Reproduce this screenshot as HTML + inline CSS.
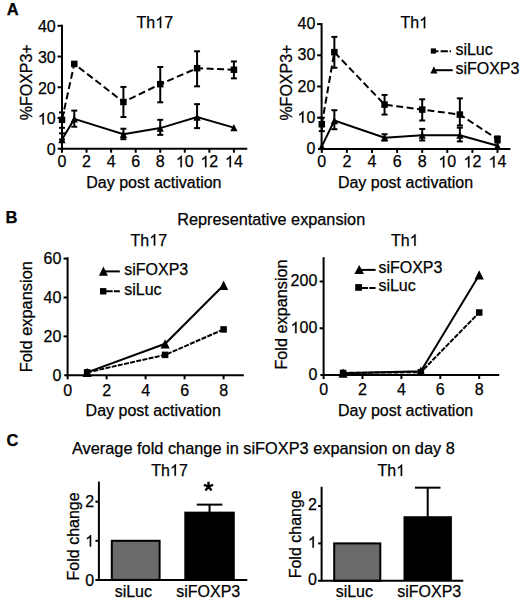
<!DOCTYPE html>
<html><head><meta charset="utf-8"><style>
html,body{margin:0;padding:0;background:#fff;}
svg{display:block;}
text{font-family:"Liberation Sans", sans-serif;fill:#000;stroke:#000;stroke-width:0.25px;}
line,polyline,path{stroke:#000;}
.o{fill:none;stroke:none;}
path.one{stroke-width:0.25px;}
</style></head><body>
<svg width="520" height="602" viewBox="0 0 520 602">
<rect width="520" height="602" fill="#fff"/>
<line x1="62.00" y1="24.80" x2="62.00" y2="149.70" stroke-width="2"/>
<line x1="57.70" y1="148.70" x2="247.30" y2="148.70" stroke-width="2"/>
<text font-size="16" text-anchor="end" transform="translate(55.70 155.20)">0</text>
<line x1="57.50" y1="117.97" x2="62.00" y2="117.97" stroke-width="2"/>
<text font-size="16" text-anchor="end" transform="translate(55.70 124.47)"><tspan class="o">1</tspan>0</text>
<line x1="57.50" y1="87.25" x2="62.00" y2="87.25" stroke-width="2"/>
<text font-size="16" text-anchor="end" transform="translate(55.70 93.75)">20</text>
<line x1="57.50" y1="56.52" x2="62.00" y2="56.52" stroke-width="2"/>
<text font-size="16" text-anchor="end" transform="translate(55.70 63.02)">30</text>
<line x1="57.50" y1="25.80" x2="62.00" y2="25.80" stroke-width="2"/>
<text font-size="16" text-anchor="end" transform="translate(55.70 32.30)">40</text>
<line x1="62.00" y1="148.70" x2="62.00" y2="152.70" stroke-width="2"/>
<text font-size="16" text-anchor="middle" transform="translate(62.00 167.20)">0</text>
<line x1="86.56" y1="148.70" x2="86.56" y2="152.70" stroke-width="2"/>
<text font-size="16" text-anchor="middle" transform="translate(86.56 167.20)">2</text>
<line x1="111.12" y1="148.70" x2="111.12" y2="152.70" stroke-width="2"/>
<text font-size="16" text-anchor="middle" transform="translate(111.12 167.20)">4</text>
<line x1="135.68" y1="148.70" x2="135.68" y2="152.70" stroke-width="2"/>
<text font-size="16" text-anchor="middle" transform="translate(135.68 167.20)">6</text>
<line x1="160.24" y1="148.70" x2="160.24" y2="152.70" stroke-width="2"/>
<text font-size="16" text-anchor="middle" transform="translate(160.24 167.20)">8</text>
<line x1="184.80" y1="148.70" x2="184.80" y2="152.70" stroke-width="2"/>
<text font-size="16" text-anchor="middle" transform="translate(184.80 167.20)"><tspan class="o">1</tspan>0</text>
<line x1="209.36" y1="148.70" x2="209.36" y2="152.70" stroke-width="2"/>
<text font-size="16" text-anchor="middle" transform="translate(209.36 167.20)"><tspan class="o">1</tspan>2</text>
<line x1="233.92" y1="148.70" x2="233.92" y2="152.70" stroke-width="2"/>
<text font-size="16" text-anchor="middle" transform="translate(233.92 167.20)"><tspan class="o">1</tspan>4</text>
<text font-size="16" transform="translate(136.60 28.10)">Th<tspan class="o">1</tspan>7</text>
<text font-size="16" text-anchor="middle" transform="translate(32.20 82.30) rotate(-90)">%FOXP3+</text>
<text font-size="16" transform="translate(86.30 187.80)">Day post activation</text>
<line x1="62.00" y1="112.44" x2="62.00" y2="127.81" stroke-width="2"/>
<line x1="59.00" y1="112.44" x2="65.00" y2="112.44" stroke-width="2"/>
<line x1="59.00" y1="127.81" x2="65.00" y2="127.81" stroke-width="2"/>
<line x1="123.40" y1="117.05" x2="123.40" y2="86.94" stroke-width="2"/>
<line x1="120.40" y1="117.05" x2="126.40" y2="117.05" stroke-width="2"/>
<line x1="120.40" y1="86.94" x2="126.40" y2="86.94" stroke-width="2"/>
<line x1="160.24" y1="102.31" x2="160.24" y2="66.97" stroke-width="2"/>
<line x1="157.24" y1="102.31" x2="163.24" y2="102.31" stroke-width="2"/>
<line x1="157.24" y1="66.97" x2="163.24" y2="66.97" stroke-width="2"/>
<line x1="197.08" y1="86.33" x2="197.08" y2="51.30" stroke-width="2"/>
<line x1="194.08" y1="86.33" x2="200.08" y2="86.33" stroke-width="2"/>
<line x1="194.08" y1="51.30" x2="200.08" y2="51.30" stroke-width="2"/>
<line x1="233.92" y1="78.34" x2="233.92" y2="61.44" stroke-width="2"/>
<line x1="230.92" y1="78.34" x2="236.92" y2="78.34" stroke-width="2"/>
<line x1="230.92" y1="61.44" x2="236.92" y2="61.44" stroke-width="2"/>
<line x1="62.00" y1="133.34" x2="62.00" y2="139.48" stroke-width="2"/>
<line x1="59.00" y1="133.34" x2="65.00" y2="133.34" stroke-width="2"/>
<line x1="59.00" y1="139.48" x2="65.00" y2="139.48" stroke-width="2"/>
<line x1="74.28" y1="126.73" x2="74.28" y2="110.60" stroke-width="2"/>
<line x1="71.28" y1="126.73" x2="77.28" y2="126.73" stroke-width="2"/>
<line x1="71.28" y1="110.60" x2="77.28" y2="110.60" stroke-width="2"/>
<line x1="123.40" y1="139.18" x2="123.40" y2="128.73" stroke-width="2"/>
<line x1="120.40" y1="139.18" x2="126.40" y2="139.18" stroke-width="2"/>
<line x1="120.40" y1="128.73" x2="126.40" y2="128.73" stroke-width="2"/>
<line x1="160.24" y1="134.87" x2="160.24" y2="119.82" stroke-width="2"/>
<line x1="157.24" y1="134.87" x2="163.24" y2="134.87" stroke-width="2"/>
<line x1="157.24" y1="119.82" x2="163.24" y2="119.82" stroke-width="2"/>
<line x1="197.08" y1="128.11" x2="197.08" y2="104.15" stroke-width="2"/>
<line x1="194.08" y1="128.11" x2="200.08" y2="128.11" stroke-width="2"/>
<line x1="194.08" y1="104.15" x2="200.08" y2="104.15" stroke-width="2"/>
<polyline points="62.00,119.82 74.28,63.90 123.40,102.00 160.24,84.18 197.08,68.20 233.92,69.74" fill="none" stroke-width="2" stroke-dasharray="7,3.5"/>
<polyline points="62.00,139.48 74.28,118.90 123.40,134.26 160.24,128.11 197.08,117.05 233.92,127.65" fill="none" stroke-width="2"/>
<rect x="58.75" y="116.57" width="6.5" height="6.5"/>
<rect x="71.03" y="60.65" width="6.5" height="6.5"/>
<rect x="120.15" y="98.75" width="6.5" height="6.5"/>
<rect x="156.99" y="80.93" width="6.5" height="6.5"/>
<rect x="193.83" y="64.95" width="6.5" height="6.5"/>
<rect x="230.67" y="66.49" width="6.5" height="6.5"/>
<polygon points="62.00,135.78 65.60,143.18 58.40,143.18"/>
<polygon points="74.28,115.20 77.88,122.60 70.68,122.60"/>
<polygon points="123.40,130.56 127.00,137.96 119.80,137.96"/>
<polygon points="160.24,124.41 163.84,131.81 156.64,131.81"/>
<polygon points="197.08,113.35 200.68,120.75 193.48,120.75"/>
<polygon points="233.92,123.95 237.52,131.35 230.32,131.35"/>
<line x1="321.60" y1="23.20" x2="321.60" y2="149.90" stroke-width="2"/>
<line x1="318.00" y1="148.90" x2="510.40" y2="148.90" stroke-width="2"/>
<text font-size="16" text-anchor="end" transform="translate(315.30 153.90)">0</text>
<line x1="317.10" y1="117.70" x2="321.60" y2="117.70" stroke-width="2"/>
<text font-size="16" text-anchor="end" transform="translate(315.30 122.70)"><tspan class="o">1</tspan>0</text>
<line x1="317.10" y1="86.50" x2="321.60" y2="86.50" stroke-width="2"/>
<text font-size="16" text-anchor="end" transform="translate(315.30 91.50)">20</text>
<line x1="317.10" y1="55.30" x2="321.60" y2="55.30" stroke-width="2"/>
<text font-size="16" text-anchor="end" transform="translate(315.30 60.30)">30</text>
<line x1="317.10" y1="24.10" x2="321.60" y2="24.10" stroke-width="2"/>
<text font-size="16" text-anchor="end" transform="translate(315.30 29.10)">40</text>
<line x1="321.80" y1="148.90" x2="321.80" y2="152.90" stroke-width="2"/>
<text font-size="16" text-anchor="middle" transform="translate(321.80 167.40)">0</text>
<line x1="346.90" y1="148.90" x2="346.90" y2="152.90" stroke-width="2"/>
<text font-size="16" text-anchor="middle" transform="translate(346.90 167.40)">2</text>
<line x1="372.00" y1="148.90" x2="372.00" y2="152.90" stroke-width="2"/>
<text font-size="16" text-anchor="middle" transform="translate(372.00 167.40)">4</text>
<line x1="397.10" y1="148.90" x2="397.10" y2="152.90" stroke-width="2"/>
<text font-size="16" text-anchor="middle" transform="translate(397.10 167.40)">6</text>
<line x1="422.20" y1="148.90" x2="422.20" y2="152.90" stroke-width="2"/>
<text font-size="16" text-anchor="middle" transform="translate(422.20 167.40)">8</text>
<line x1="447.30" y1="148.90" x2="447.30" y2="152.90" stroke-width="2"/>
<text font-size="16" text-anchor="middle" transform="translate(447.30 167.40)"><tspan class="o">1</tspan>0</text>
<line x1="472.40" y1="148.90" x2="472.40" y2="152.90" stroke-width="2"/>
<text font-size="16" text-anchor="middle" transform="translate(472.40 167.40)"><tspan class="o">1</tspan>2</text>
<line x1="497.50" y1="148.90" x2="497.50" y2="152.90" stroke-width="2"/>
<text font-size="16" text-anchor="middle" transform="translate(497.50 167.40)"><tspan class="o">1</tspan>4</text>
<text font-size="16" transform="translate(400.60 28.20)">Th<tspan class="o">1</tspan></text>
<text font-size="16" text-anchor="middle" transform="translate(292.20 82.60) rotate(-90)">%FOXP3+</text>
<text font-size="16" transform="translate(337.90 188.00)">Day post activation</text>
<line x1="321.80" y1="117.70" x2="321.80" y2="131.12" stroke-width="2"/>
<line x1="318.80" y1="117.70" x2="324.80" y2="117.70" stroke-width="2"/>
<line x1="318.80" y1="131.12" x2="324.80" y2="131.12" stroke-width="2"/>
<line x1="334.35" y1="67.78" x2="334.35" y2="36.89" stroke-width="2"/>
<line x1="331.35" y1="67.78" x2="337.35" y2="67.78" stroke-width="2"/>
<line x1="331.35" y1="36.89" x2="337.35" y2="36.89" stroke-width="2"/>
<line x1="384.55" y1="114.58" x2="384.55" y2="94.92" stroke-width="2"/>
<line x1="381.55" y1="114.58" x2="387.55" y2="114.58" stroke-width="2"/>
<line x1="381.55" y1="94.92" x2="387.55" y2="94.92" stroke-width="2"/>
<line x1="422.20" y1="120.51" x2="422.20" y2="99.29" stroke-width="2"/>
<line x1="419.20" y1="120.51" x2="425.20" y2="120.51" stroke-width="2"/>
<line x1="419.20" y1="99.29" x2="425.20" y2="99.29" stroke-width="2"/>
<line x1="459.85" y1="125.50" x2="459.85" y2="98.36" stroke-width="2"/>
<line x1="456.85" y1="125.50" x2="462.85" y2="125.50" stroke-width="2"/>
<line x1="456.85" y1="98.36" x2="462.85" y2="98.36" stroke-width="2"/>
<line x1="497.50" y1="142.66" x2="497.50" y2="136.42" stroke-width="2"/>
<line x1="494.50" y1="142.66" x2="500.50" y2="142.66" stroke-width="2"/>
<line x1="494.50" y1="136.42" x2="500.50" y2="136.42" stroke-width="2"/>
<line x1="334.35" y1="129.24" x2="334.35" y2="110.21" stroke-width="2"/>
<line x1="331.35" y1="129.24" x2="337.35" y2="129.24" stroke-width="2"/>
<line x1="331.35" y1="110.21" x2="337.35" y2="110.21" stroke-width="2"/>
<line x1="384.55" y1="140.48" x2="384.55" y2="134.24" stroke-width="2"/>
<line x1="381.55" y1="140.48" x2="387.55" y2="140.48" stroke-width="2"/>
<line x1="381.55" y1="134.24" x2="387.55" y2="134.24" stroke-width="2"/>
<line x1="422.20" y1="140.48" x2="422.20" y2="128.93" stroke-width="2"/>
<line x1="419.20" y1="140.48" x2="425.20" y2="140.48" stroke-width="2"/>
<line x1="419.20" y1="128.93" x2="425.20" y2="128.93" stroke-width="2"/>
<line x1="459.85" y1="141.41" x2="459.85" y2="127.68" stroke-width="2"/>
<line x1="456.85" y1="141.41" x2="462.85" y2="141.41" stroke-width="2"/>
<line x1="456.85" y1="127.68" x2="462.85" y2="127.68" stroke-width="2"/>
<polyline points="321.80,124.25 334.35,52.18 384.55,104.60 422.20,109.59 459.85,114.58 497.50,139.23" fill="none" stroke-width="2" stroke-dasharray="7,3.5"/>
<polyline points="321.80,146.40 334.35,120.51 384.55,137.67 422.20,135.17 459.85,135.17 497.50,145.78" fill="none" stroke-width="2"/>
<rect x="318.55" y="121.00" width="6.5" height="6.5"/>
<rect x="331.10" y="48.93" width="6.5" height="6.5"/>
<rect x="381.30" y="101.35" width="6.5" height="6.5"/>
<rect x="418.95" y="106.34" width="6.5" height="6.5"/>
<rect x="456.60" y="111.33" width="6.5" height="6.5"/>
<rect x="494.25" y="135.98" width="6.5" height="6.5"/>
<polygon points="321.80,142.70 325.40,150.10 318.20,150.10"/>
<polygon points="334.35,116.81 337.95,124.21 330.75,124.21"/>
<polygon points="384.55,133.97 388.15,141.37 380.95,141.37"/>
<polygon points="422.20,131.47 425.80,138.87 418.60,138.87"/>
<polygon points="459.85,131.47 463.45,138.87 456.25,138.87"/>
<polygon points="497.50,142.08 501.10,149.48 493.90,149.48"/>
<rect x="430.80" y="48.40" width="5.2" height="5.2"/>
<line x1="433.00" y1="51.30" x2="451.00" y2="51.30" stroke-width="2" stroke-dasharray="5.4,2.2,7.3,1.7"/>
<text font-size="16" transform="translate(455.40 55.00)">siLuc</text>
<polygon points="433.90,66.35 437.50,73.55 430.30,73.55"/>
<line x1="434.00" y1="70.20" x2="452.70" y2="70.20" stroke-width="2"/>
<text font-size="16" transform="translate(455.40 74.40)">siFOXP3</text>
<text font-size="16.5" font-weight="bold" transform="translate(6.70 14.60)">A</text>
<text font-size="16.5" font-weight="bold" transform="translate(5.60 222.80)">B</text>
<text font-size="16.25" transform="translate(177.30 225.00)">Representative expansion</text>
<line x1="67.60" y1="257.30" x2="67.60" y2="376.30" stroke-width="2"/>
<line x1="64.20" y1="375.30" x2="243.80" y2="375.30" stroke-width="2"/>
<text font-size="16" text-anchor="end" transform="translate(61.30 381.00)">0</text>
<line x1="63.60" y1="336.40" x2="67.60" y2="336.40" stroke-width="2"/>
<text font-size="16" text-anchor="end" transform="translate(61.30 342.10)">20</text>
<line x1="63.60" y1="297.50" x2="67.60" y2="297.50" stroke-width="2"/>
<text font-size="16" text-anchor="end" transform="translate(61.30 303.20)">40</text>
<line x1="63.60" y1="258.60" x2="67.60" y2="258.60" stroke-width="2"/>
<text font-size="16" text-anchor="end" transform="translate(61.30 264.30)">60</text>
<line x1="67.60" y1="375.30" x2="67.60" y2="379.30" stroke-width="2"/>
<text font-size="16" text-anchor="middle" transform="translate(67.60 395.50)">0</text>
<line x1="106.60" y1="375.30" x2="106.60" y2="379.30" stroke-width="2"/>
<text font-size="16" text-anchor="middle" transform="translate(106.60 395.50)">2</text>
<line x1="145.60" y1="375.30" x2="145.60" y2="379.30" stroke-width="2"/>
<text font-size="16" text-anchor="middle" transform="translate(145.60 395.50)">4</text>
<line x1="184.60" y1="375.30" x2="184.60" y2="379.30" stroke-width="2"/>
<text font-size="16" text-anchor="middle" transform="translate(184.60 395.50)">6</text>
<line x1="223.60" y1="375.30" x2="223.60" y2="379.30" stroke-width="2"/>
<text font-size="16" text-anchor="middle" transform="translate(223.60 395.50)">8</text>
<text font-size="16" transform="translate(130.60 245.50)">Th<tspan class="o">1</tspan>7</text>
<text font-size="16.4" text-anchor="middle" transform="translate(32.00 316.70) rotate(-90)">Fold expansion</text>
<text font-size="16" transform="translate(85.60 416.10)">Day post activation</text>
<polyline points="87.10,372.38 165.10,354.88 223.60,329.40" fill="none" stroke-width="2" stroke-dasharray="5,1.3"/>
<polyline points="87.10,372.38 165.10,343.79 223.60,285.25" fill="none" stroke-width="2"/>
<rect x="83.85" y="369.13" width="6.5" height="6.5"/>
<rect x="161.85" y="351.63" width="6.5" height="6.5"/>
<rect x="220.35" y="326.15" width="6.5" height="6.5"/>
<polygon points="87.10,367.73 91.70,377.03 82.50,377.03"/>
<polygon points="165.10,339.14 169.70,348.44 160.50,348.44"/>
<polygon points="223.60,280.60 228.20,289.90 219.00,289.90"/>
<polygon points="103.40,266.50 107.90,275.70 98.90,275.70"/>
<line x1="103.40" y1="271.40" x2="119.80" y2="271.40" stroke-width="2"/>
<text font-size="16" transform="translate(124.20 274.80)">siFOXP3</text>
<rect x="100.00" y="288.10" width="6.4" height="6.4"/>
<line x1="103.20" y1="291.30" x2="119.80" y2="291.30" stroke-width="2" stroke-dasharray="9.5,1.2"/>
<text font-size="16" transform="translate(124.20 295.00)">siLuc</text>
<line x1="323.60" y1="257.20" x2="323.60" y2="376.00" stroke-width="2"/>
<line x1="320.40" y1="375.00" x2="499.20" y2="375.00" stroke-width="2"/>
<text font-size="16" text-anchor="end" transform="translate(317.30 379.90)">0</text>
<line x1="319.60" y1="328.25" x2="323.60" y2="328.25" stroke-width="2"/>
<text font-size="16" text-anchor="end" transform="translate(317.30 333.15)"><tspan class="o">1</tspan>00</text>
<line x1="319.60" y1="281.50" x2="323.60" y2="281.50" stroke-width="2"/>
<text font-size="16" text-anchor="end" transform="translate(317.30 286.40)">200</text>
<line x1="323.60" y1="375.00" x2="323.60" y2="379.00" stroke-width="2"/>
<text font-size="16" text-anchor="middle" transform="translate(323.60 395.20)">0</text>
<line x1="362.50" y1="375.00" x2="362.50" y2="379.00" stroke-width="2"/>
<text font-size="16" text-anchor="middle" transform="translate(362.50 395.20)">2</text>
<line x1="401.40" y1="375.00" x2="401.40" y2="379.00" stroke-width="2"/>
<text font-size="16" text-anchor="middle" transform="translate(401.40 395.20)">4</text>
<line x1="440.30" y1="375.00" x2="440.30" y2="379.00" stroke-width="2"/>
<text font-size="16" text-anchor="middle" transform="translate(440.30 395.20)">6</text>
<line x1="479.20" y1="375.00" x2="479.20" y2="379.00" stroke-width="2"/>
<text font-size="16" text-anchor="middle" transform="translate(479.20 395.20)">8</text>
<text font-size="16" transform="translate(391.00 245.70)">Th<tspan class="o">1</tspan></text>
<text font-size="16.25" text-anchor="middle" transform="translate(287.00 314.50) rotate(-90)">Fold expansion</text>
<text font-size="16" transform="translate(338.00 415.80)">Day post activation</text>
<polyline points="343.05,372.90 420.85,372.19 479.20,312.50" fill="none" stroke-width="2" stroke-dasharray="5,1.3"/>
<polyline points="343.05,373.13 420.85,371.26 479.20,274.95" fill="none" stroke-width="2"/>
<rect x="339.80" y="369.65" width="6.5" height="6.5"/>
<rect x="417.60" y="368.94" width="6.5" height="6.5"/>
<rect x="475.95" y="309.25" width="6.5" height="6.5"/>
<polygon points="343.05,368.48 347.65,377.78 338.45,377.78"/>
<polygon points="420.85,366.61 425.45,375.91 416.25,375.91"/>
<polygon points="479.20,270.31 483.80,279.60 474.60,279.60"/>
<polygon points="359.20,264.90 364.00,274.00 354.40,274.00"/>
<line x1="359.20" y1="269.90" x2="375.60" y2="269.90" stroke-width="2"/>
<text font-size="16" transform="translate(378.40 273.30)">siFOXP3</text>
<rect x="355.20" y="284.10" width="6.7" height="6.7"/>
<line x1="358.55" y1="288.00" x2="375.60" y2="288.00" stroke-width="2" stroke-dasharray="9.5,1.2"/>
<text font-size="16" transform="translate(378.40 291.40)">siLuc</text>
<text font-size="16.5" font-weight="bold" transform="translate(6.40 445.80)">C</text>
<text font-size="16.33" transform="translate(72.00 454.20)">Average fold change in siFOXP3 expansion on day 8</text>
<rect x="111.8" y="540.80" width="47.80" height="39.10" fill="#6a6a6a" stroke="#000" stroke-width="2"/>
<rect x="184.3" y="511.65" width="50.50" height="68.25"/>
<line x1="209.55" y1="504.63" x2="209.55" y2="512.65" stroke-width="2"/>
<line x1="196.75" y1="504.63" x2="222.35" y2="504.63" stroke-width="2"/>
<line x1="98.90" y1="481.60" x2="98.90" y2="580.90" stroke-width="2"/>
<line x1="95.40" y1="579.90" x2="247.30" y2="579.90" stroke-width="2"/>
<text font-size="16" text-anchor="end" transform="translate(94.10 585.60)">0</text>
<line x1="95.40" y1="540.80" x2="98.90" y2="540.80" stroke-width="2"/>
<text font-size="16" text-anchor="end" transform="translate(94.10 546.50)"><tspan class="o">1</tspan></text>
<line x1="95.40" y1="501.70" x2="98.90" y2="501.70" stroke-width="2"/>
<text font-size="16" text-anchor="end" transform="translate(94.10 507.40)">2</text>
<text font-size="16" transform="translate(151.30 475.80)">Th<tspan class="o">1</tspan>7</text>
<text font-size="16" text-anchor="middle" transform="translate(79.00 536.40) rotate(-90)">Fold change</text>
<text font-size="16" text-anchor="middle" transform="translate(133.30 596.60)">siLuc</text>
<text font-size="16" text-anchor="middle" transform="translate(208.20 596.60)">siFOXP3</text>
<path d="M208.5 486.5 V481.7 M208.5 486.5 L203.9 484.9 M208.5 486.5 L213.1 484.9 M208.5 486.5 L205.5 490.5 M208.5 486.5 L211.5 490.5" stroke-width="2.3" fill="none"/>
<rect x="334.2" y="543.40" width="46.10" height="37.40" fill="#6a6a6a" stroke="#000" stroke-width="2"/>
<rect x="403.5" y="516.22" width="48.40" height="64.58"/>
<line x1="427.70" y1="487.67" x2="427.70" y2="517.22" stroke-width="2"/>
<line x1="414.90" y1="487.67" x2="440.50" y2="487.67" stroke-width="2"/>
<line x1="321.60" y1="486.80" x2="321.60" y2="581.80" stroke-width="2"/>
<line x1="318.10" y1="580.80" x2="463.30" y2="580.80" stroke-width="2"/>
<text font-size="16" text-anchor="end" transform="translate(316.80 585.10)">0</text>
<line x1="318.10" y1="543.40" x2="321.60" y2="543.40" stroke-width="2"/>
<text font-size="16" text-anchor="end" transform="translate(316.80 547.70)"><tspan class="o">1</tspan></text>
<line x1="318.10" y1="506.00" x2="321.60" y2="506.00" stroke-width="2"/>
<text font-size="16" text-anchor="end" transform="translate(316.80 510.30)">2</text>
<text font-size="16" transform="translate(377.50 476.00)">Th<tspan class="o">1</tspan></text>
<text font-size="16" text-anchor="middle" transform="translate(301.00 534.30) rotate(-90)">Fold change</text>
<text font-size="16" text-anchor="middle" transform="translate(354.30 596.60)">siLuc</text>
<text font-size="16" text-anchor="middle" transform="translate(429.20 596.60)">siFOXP3</text>
<g id="ones"><path class="one" d="M43.85 124.47H42.44V115.51Q41.93 115.99 41.11 116.48Q40.29 116.96 39.63 117.20V115.84Q40.81 115.29 41.69 114.50Q42.58 113.71 42.94 112.97H43.85Z"/><path class="one" d="M181.85 167.20H180.45V158.24Q179.94 158.72 179.12 159.21Q178.29 159.69 177.64 159.93V158.57Q178.82 158.02 179.70 157.23Q180.58 156.44 180.95 155.70H181.85Z"/><path class="one" d="M206.41 167.20H205.01V158.24Q204.50 158.72 203.68 159.21Q202.85 159.69 202.20 159.93V158.57Q203.38 158.02 204.26 157.23Q205.14 156.44 205.51 155.70H206.41Z"/><path class="one" d="M230.97 167.20H229.57V158.24Q229.06 158.72 228.24 159.21Q227.41 159.69 226.76 159.93V158.57Q227.94 158.02 228.82 157.23Q229.70 156.44 230.07 155.70H230.97Z"/><path class="one" d="M161.23 28.10H159.83V19.14Q159.32 19.62 158.49 20.11Q157.67 20.59 157.01 20.83V19.48Q158.19 18.92 159.08 18.13Q159.96 17.34 160.33 16.60H161.23Z"/><path class="one" d="M303.45 122.70H302.04V113.74Q301.53 114.22 300.71 114.71Q299.89 115.19 299.23 115.43V114.08Q300.41 113.52 301.29 112.73Q302.18 111.94 302.54 111.20H303.45Z"/><path class="one" d="M444.35 167.40H442.95V158.44Q442.44 158.92 441.62 159.41Q440.79 159.89 440.14 160.13V158.78Q441.32 158.22 442.20 157.43Q443.08 156.64 443.45 155.90H444.35Z"/><path class="one" d="M469.45 167.40H468.05V158.44Q467.54 158.92 466.72 159.41Q465.89 159.89 465.24 160.13V158.78Q466.42 158.22 467.30 157.43Q468.18 156.64 468.55 155.90H469.45Z"/><path class="one" d="M494.55 167.40H493.15V158.44Q492.64 158.92 491.82 159.41Q490.99 159.89 490.34 160.13V158.78Q491.52 158.22 492.40 157.43Q493.28 156.64 493.65 155.90H494.55Z"/><path class="one" d="M425.23 28.20H423.83V19.24Q423.32 19.72 422.49 20.21Q421.67 20.69 421.01 20.93V19.57Q422.19 19.02 423.08 18.23Q423.96 17.44 424.33 16.70H425.23Z"/><path class="one" d="M155.23 245.50H153.83V236.54Q153.32 237.02 152.49 237.51Q151.67 237.99 151.01 238.23V236.88Q152.19 236.32 153.08 235.53Q153.96 234.74 154.33 234.00H155.23Z"/><path class="one" d="M296.56 333.15H295.15V324.19Q294.64 324.67 293.82 325.16Q293.00 325.64 292.34 325.88V324.52Q293.52 323.97 294.40 323.18Q295.28 322.39 295.65 321.65H296.56Z"/><path class="one" d="M415.63 245.70H414.23V236.74Q413.72 237.22 412.89 237.71Q412.07 238.19 411.41 238.43V237.07Q412.59 236.52 413.48 235.73Q414.36 234.94 414.73 234.20H415.63Z"/><path class="one" d="M91.15 546.50H89.75V537.54Q89.24 538.02 88.42 538.51Q87.59 538.99 86.94 539.23V537.88Q88.12 537.32 89.00 536.53Q89.88 535.74 90.25 535.00H91.15Z"/><path class="one" d="M175.93 475.80H174.53V466.84Q174.02 467.32 173.19 467.81Q172.37 468.29 171.71 468.53V467.18Q172.89 466.62 173.78 465.83Q174.66 465.04 175.03 464.30H175.93Z"/><path class="one" d="M313.85 547.70H312.45V538.74Q311.94 539.22 311.12 539.71Q310.29 540.19 309.64 540.43V539.08Q310.82 538.52 311.70 537.73Q312.58 536.94 312.95 536.20H313.85Z"/><path class="one" d="M402.13 476.00H400.73V467.04Q400.22 467.52 399.39 468.01Q398.57 468.49 397.91 468.73V467.38Q399.09 466.82 399.98 466.03Q400.86 465.24 401.23 464.50H402.13Z"/></g>
</svg>
</body></html>
